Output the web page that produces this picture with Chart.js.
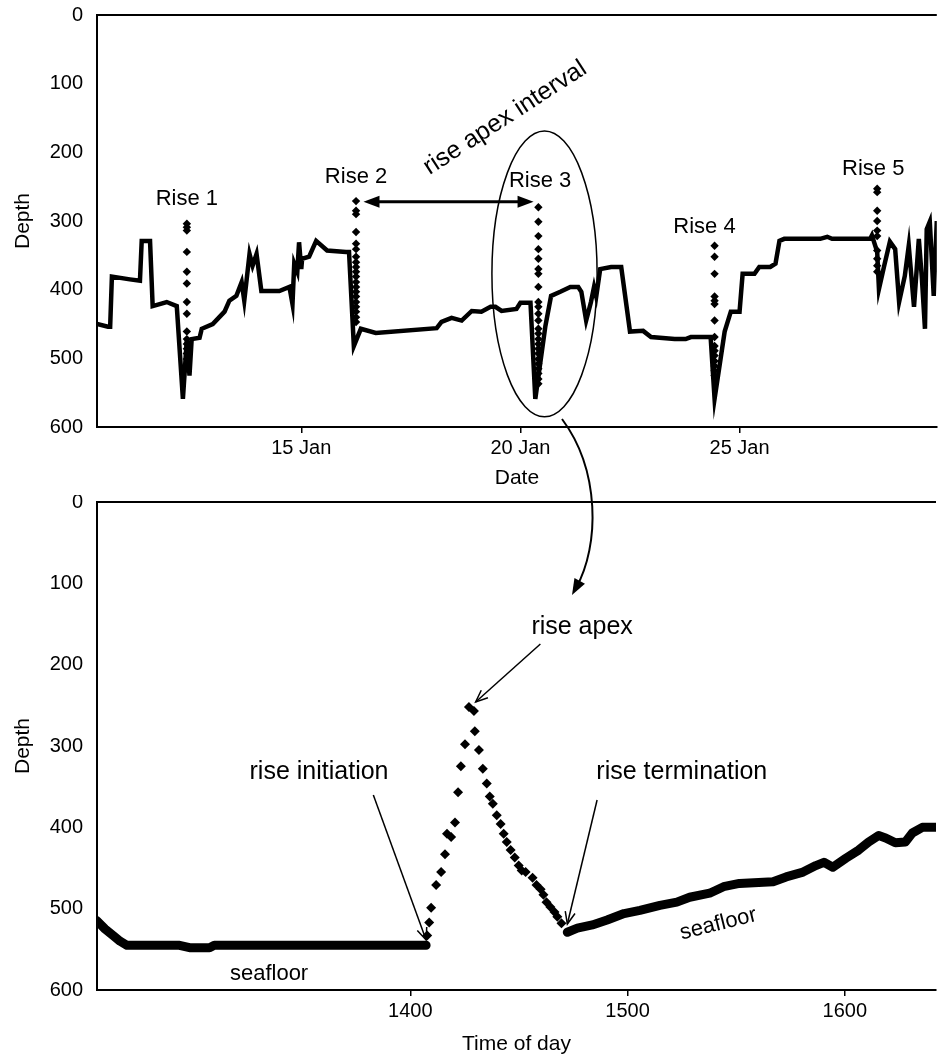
<!DOCTYPE html>
<html><head><meta charset="utf-8">
<script src="https://cdn.jsdelivr.net/npm/chart.js@4.4.0/dist/chart.umd.min.js"></script>
<style>
html,body{margin:0;padding:0;background:#fff;}
#wrap{position:relative;width:941px;height:1061px;overflow:hidden;background:#fff;}
#c1{position:absolute;left:0;top:0;z-index:2;pointer-events:none;}
#c2{position:absolute;left:0;top:495px;z-index:1;}
</style></head><body>
<div id="wrap"><canvas id="c2" width="941" height="566" style="width:941px;height:566px"></canvas><canvas id="c1" width="941" height="1061" style="width:941px;height:1061px"></canvas></div>
<script>
// ---------- DATA (top chart: depth record over days of January) ----------
const trackDays = [10.34,10.59,10.64,10.68,11.09,11.32,11.36,11.55,11.61,11.77,11.93,12.16,12.30,12.39,12.45,12.50,12.68,12.73,12.98,13.25,13.36,13.52,13.64,13.70,13.82,13.89,13.98,14.09,14.50,14.73,14.80,14.84,14.91,14.95,15.00,15.02,15.18,15.34,15.59,16.02,16.09,16.20,16.36,16.70,18.09,18.20,18.43,18.66,18.89,19.11,19.32,19.43,19.57,19.91,20.00,20.23,20.34,20.57,20.70,20.91,21.14,21.32,21.39,21.50,21.61,21.68,21.73,21.82,22.07,22.30,22.50,22.80,22.98,23.52,23.77,23.89,24.34,24.43,24.66,24.80,25.00,25.07,25.34,25.45,25.70,25.82,25.91,26.02,26.84,27.00,27.11,27.98,28.02,28.14,28.18,28.30,28.43,28.55,28.64,28.77,28.86,28.98,29.09,29.16,29.23,29.27,29.34,29.43,29.50];
const trackDepths = [450,454,454,381,385,387,329,329,424,421,418,424,559,472,525,472,470,457,450,432,416,409,389,416,348,365,348,402,402,396,421,362,374,331,370,355,352,329,343,345,345,482,457,463,456,447,441,445,431,432,425,425,431,428,419,419,559,453,409,403,396,396,403,445,418,396,410,370,367,367,461,460,469,472,472,469,469,559,461,432,432,377,377,367,367,362,329,326,326,323,326,326,321,345,399,365,330,341,418,380,336,425,326,384,457,312,301,409,300];
const riseNames = ['Rise 1','Rise 2','Rise 3','Rise 4','Rise 5'];
const riseDays = [12.39,16.25,20.41,24.43,28.14];
const rise1Depths = [304,309,314,345,374,391,418,435,461,472,479,486,493,501,508,515];
const rise2Depths = [271,285,290,316,333,341,352,360,367,374,381,389,396,403,410,418,425,432,440,447];
const rise3Depths = [280,301,322,341,355,370,377,396,418,425,435,445,457,464,472,479,486,493,501,508,515,522,530,537];
const rise4Depths = [336,352,377,410,416,421,445,469,482,489,496,504,511,518,525];
const rise5Depths = [253,258,285,300,314,322,343,355,365,374];
const dateTickValues = [15,20,25];
const dateTickLabels = ['15 Jan','20 Jan','25 Jan'];
const depthTickValues = [0,100,200,300,400,500,600];

// ---------- DATA (bottom chart: detail of rise 3, time of day) ----------
const seafloorBeforeTime = [1255.8,1259.5,1263.2,1266.4,1269.6,1293.8,1298.4,1307.6,1309.8,1407.3];
const seafloorBeforeDepth = [515,525,533,540,545,545,548,548,545,545];
const riseTime = [1407.8,1408.7,1409.6,1411.9,1414.2,1416.0,1416.9,1418.8,1420.6,1422.0,1423.3,1425.2,1427.0,1429.3,1429.7,1431.6,1433.4,1435.2,1436.6,1438.0,1439.8,1441.6,1443.0,1444.4,1446.2,1448.1,1449.9,1451.3,1453.1,1456.3,1458.1,1460.0,1461.3,1462.7,1464.5,1466.4,1467.7,1469.6];
const riseDepth = [533,517,499,471,455,433,408,412,394,357,325,298,252,257,282,305,328,346,362,371,385,396,408,418,428,437,447,453,455,462,471,476,483,492,498,504,510,518];
const seafloorAfterTime = [1472.3,1476.9,1483.8,1490.6,1498.4,1505.7,1514.9,1522.7,1528.6,1537.8,1544.2,1551.5,1567.0,1573.0,1580.8,1586.7,1590.4,1594.5,1600.5,1606.4,1611.0,1615.6,1618.8,1623.3,1627.9,1631.1,1635.7,1642.0];
const seafloorAfterDepth = [529,524,520,514,506,502,496,492,486,481,473,469,467,461,455,447,443,449,438,428,418,410,413,419,418,407,400,400];
const timeTickValues = [1400,1500,1600];

// ---------- helpers ----------
const FONT = '"Liberation Sans", Arial, Helvetica, sans-serif';
const pts = (xs, ys) => xs.map((x, i) => ({x: x, y: ys[i]}));
const riseSets = [rise1Depths, rise2Depths, rise3Depths, rise4Depths, rise5Depths];
const risePoints = [];
riseSets.forEach((arr, k) => arr.forEach(d => risePoints.push({x: riseDays[k], y: d})));

function arrowHead(ctx, x1, y1, x2, y2, len, wid) {
  const a = Math.atan2(y2 - y1, x2 - x1);
  ctx.beginPath();
  ctx.moveTo(x2, y2);
  ctx.lineTo(x2 - len * Math.cos(a) + wid * Math.sin(a), y2 - len * Math.sin(a) - wid * Math.cos(a));
  ctx.lineTo(x2 - len * Math.cos(a) - wid * Math.sin(a), y2 - len * Math.sin(a) + wid * Math.cos(a));
  ctx.closePath();
  ctx.fill();
}
function openHead(ctx, x1, y1, x2, y2, len, wid) {
  const a = Math.atan2(y2 - y1, x2 - x1);
  ctx.beginPath();
  ctx.moveTo(x2 - len * Math.cos(a) + wid * Math.sin(a), y2 - len * Math.sin(a) - wid * Math.cos(a));
  ctx.lineTo(x2, y2);
  ctx.lineTo(x2 - len * Math.cos(a) - wid * Math.sin(a), y2 - len * Math.sin(a) + wid * Math.cos(a));
  ctx.stroke();
}

function yAxis(title) {
  return {
    reverse: true, min: 0, max: 600,
    afterBuildTicks: s => { s.ticks = depthTickValues.map(v => ({value: v})); },
    afterFit: s => { s.width = 97; s.paddingTop = 0; s.paddingBottom = 0; },
    ticks: {color: '#000', font: {family: FONT, size: 20}, padding: 14},
    grid: {display: false, drawTicks: false},
    border: {display: true, color: '#000', width: 2},
    title: {display: true, text: title, color: '#000', font: {family: FONT, size: 21}, padding: {top: 11, bottom: 0}}
  };
}
function xAxisFit(h) {
  return s => { s.height = h; s.paddingLeft = 0; s.paddingRight = 0; };
}

// ---------- top chart ----------
const topDecor = {
  id: 'topDecor',
  afterDatasetsDraw(chart) {
    const ctx = chart.ctx, x = chart.scales.x, y = chart.scales.y, a = chart.chartArea;
    ctx.save();
    ctx.strokeStyle = '#000'; ctx.fillStyle = '#000';
    ctx.lineWidth = 2;
    ctx.beginPath(); ctx.moveTo(a.left, a.top); ctx.lineTo(a.right, a.top); ctx.stroke();
    ctx.font = '22px ' + FONT; ctx.textAlign = 'center'; ctx.textBaseline = 'middle';
    const labelPos = [[12.39, 268], [16.25, 236], [20.45, 242], [24.2, 309], [28.05, 224]];
    riseNames.forEach((n, i) => ctx.fillText(n, x.getPixelForValue(labelPos[i][0]), y.getPixelForValue(labelPos[i][1])));
    const ax1 = x.getPixelForValue(16.42), ax2 = x.getPixelForValue(20.30), ay = y.getPixelForValue(272);
    ctx.lineWidth = 3;
    ctx.beginPath(); ctx.moveTo(ax1 + 10, ay); ctx.lineTo(ax2 - 10, ay); ctx.stroke();
    arrowHead(ctx, ax2, ay, ax1, ay, 16, 6);
    arrowHead(ctx, ax1, ay, ax2, ay, 16, 6);
    ctx.save();
    ctx.translate(x.getPixelForValue(19.65), y.getPixelForValue(150));
    ctx.rotate(-33 * Math.PI / 180);
    ctx.font = '25px ' + FONT;
    ctx.fillText('rise apex interval', 0, 0);
    ctx.restore();
    const ex = x.getPixelForValue(20.55), ey = y.getPixelForValue(377);
    const rx = x.getPixelForValue(20.55 + 1.2) - ex, ry = y.getPixelForValue(377 + 208) - ey;
    ctx.lineWidth = 1.5;
    ctx.beginPath(); ctx.ellipse(ex, ey, rx, ry, 0, 0, Math.PI * 2); ctx.stroke();
    ctx.lineWidth = 2;
    ctx.beginPath();
    ctx.moveTo(562, 419);
    ctx.bezierCurveTo(600, 470, 600, 545, 576, 588);
    ctx.stroke();
    arrowHead(ctx, 583, 575, 572, 595, 16, 6);
    ctx.restore();
  }
};

new Chart(document.getElementById('c1'), {
  data: {
    datasets: [
      {type: 'line', data: pts(trackDays, trackDepths), borderColor: '#000', borderWidth: 4.5, pointRadius: 0, tension: 0, borderJoinStyle: 'miter', order: 2},
      {type: 'scatter', data: risePoints, pointStyle: 'rectRot', pointRadius: 4.2, backgroundColor: '#000', borderColor: '#000', borderWidth: 0, order: 1}
    ]
  },
  options: {
    responsive: false, animation: false, devicePixelRatio: 1,
    layout: {padding: {top: 15, right: 0, left: 0, bottom: 566}},
    plugins: {legend: {display: false}, tooltip: {enabled: false}},
    scales: {
      x: {
        type: 'linear', min: 10.34, max: 29.5,
        afterBuildTicks: s => { s.ticks = dateTickValues.map(v => ({value: v})); },
        afterFit: xAxisFit(68),
        ticks: {color: '#000', font: {family: FONT, size: 20}, padding: 3, maxRotation: 0,
          callback: v => dateTickLabels[dateTickValues.indexOf(v)]},
        grid: {display: true, drawOnChartArea: false, drawTicks: true, tickLength: 6, color: '#000', lineWidth: 1.5},
        border: {display: true, color: '#000', width: 2},
        title: {display: true, text: 'Date', color: '#000', font: {family: FONT, size: 21}, padding: {top: 0, bottom: 4}}
      },
      y: yAxis('Depth')
    }
  },
  plugins: [topDecor]
});

// ---------- bottom chart ----------
const bottomDecor = {
  id: 'bottomDecor',
  afterDatasetsDraw(chart) {
    const ctx = chart.ctx, x = chart.scales.x, y = chart.scales.y, a = chart.chartArea;
    ctx.save();
    ctx.strokeStyle = '#000'; ctx.fillStyle = '#000';
    ctx.lineWidth = 2;
    ctx.beginPath(); ctx.moveTo(a.left, a.top); ctx.lineTo(a.right, a.top); ctx.stroke();
    ctx.textAlign = 'center'; ctx.textBaseline = 'middle';
    ctx.font = '25px ' + FONT;
    const P = (t, d) => [x.getPixelForValue(t), y.getPixelForValue(d)];
    let p = P(1479.1, 154); ctx.fillText('rise apex', p[0], p[1]);
    p = P(1358, 332); ctx.fillText('rise initiation', p[0], p[1]);
    p = P(1525, 332); ctx.fillText('rise termination', p[0], p[1]);
    ctx.lineWidth = 1.5;
    let s = P(1459.9, 174.6), e = P(1430.1, 245.9);
    ctx.beginPath(); ctx.moveTo(s[0], s[1]); ctx.lineTo(e[0], e[1]); ctx.stroke(); openHead(ctx, s[0], s[1], e[0], e[1], 12, 5);
    s = P(1383.0, 360.3); e = P(1407.3, 538.5);
    ctx.beginPath(); ctx.moveTo(s[0], s[1]); ctx.lineTo(e[0], e[1]); ctx.stroke(); openHead(ctx, s[0], s[1], e[0], e[1], 12, 5);
    s = P(1486.0, 366.4); e = P(1472.3, 518.9);
    ctx.beginPath(); ctx.moveTo(s[0], s[1]); ctx.lineTo(e[0], e[1]); ctx.stroke(); openHead(ctx, s[0], s[1], e[0], e[1], 12, 5);
    ctx.font = '22px ' + FONT;
    p = P(1335, 580); ctx.fillText('seafloor', p[0], p[1]);
    ctx.save();
    p = P(1541.8, 519); ctx.translate(p[0], p[1]); ctx.rotate(-14 * Math.PI / 180);
    ctx.fillText('seafloor', 0, 0);
    ctx.restore();
    ctx.restore();
  }
};

new Chart(document.getElementById('c2'), {
  data: {
    datasets: [
      {type: 'line', data: pts(seafloorBeforeTime, seafloorBeforeDepth), borderColor: '#000', borderWidth: 9, pointRadius: 0, tension: 0, borderCapStyle: 'round', borderJoinStyle: 'round'},
      {type: 'scatter', data: pts(riseTime, riseDepth), pointStyle: 'rectRot', pointRadius: 5, backgroundColor: '#000', borderColor: '#000', borderWidth: 0},
      {type: 'line', data: pts(seafloorAfterTime, seafloorAfterDepth), borderColor: '#000', borderWidth: 9, pointRadius: 0, tension: 0, borderCapStyle: 'round', borderJoinStyle: 'round'}
    ]
  },
  options: {
    responsive: false, animation: false, devicePixelRatio: 1,
    layout: {padding: {top: 7, right: 0, left: 0, bottom: 0}},
    plugins: {legend: {display: false}, tooltip: {enabled: false}},
    scales: {
      x: {
        type: 'linear', min: 1255.8, max: 1642,
        afterBuildTicks: s => { s.ticks = timeTickValues.map(v => ({value: v})); },
        afterFit: xAxisFit(71),
        ticks: {color: '#000', font: {family: FONT, size: 20}, padding: 3, maxRotation: 0, callback: v => String(v)},
        grid: {display: true, drawOnChartArea: false, drawTicks: true, tickLength: 6, color: '#000', lineWidth: 1.5},
        border: {display: true, color: '#000', width: 2},
        title: {display: true, text: 'Time of day', color: '#000', font: {family: FONT, size: 21}, padding: {top: 0, bottom: 4}}
      },
      y: yAxis('Depth')
    }
  },
  plugins: [bottomDecor]
});
</script>
</body></html>
